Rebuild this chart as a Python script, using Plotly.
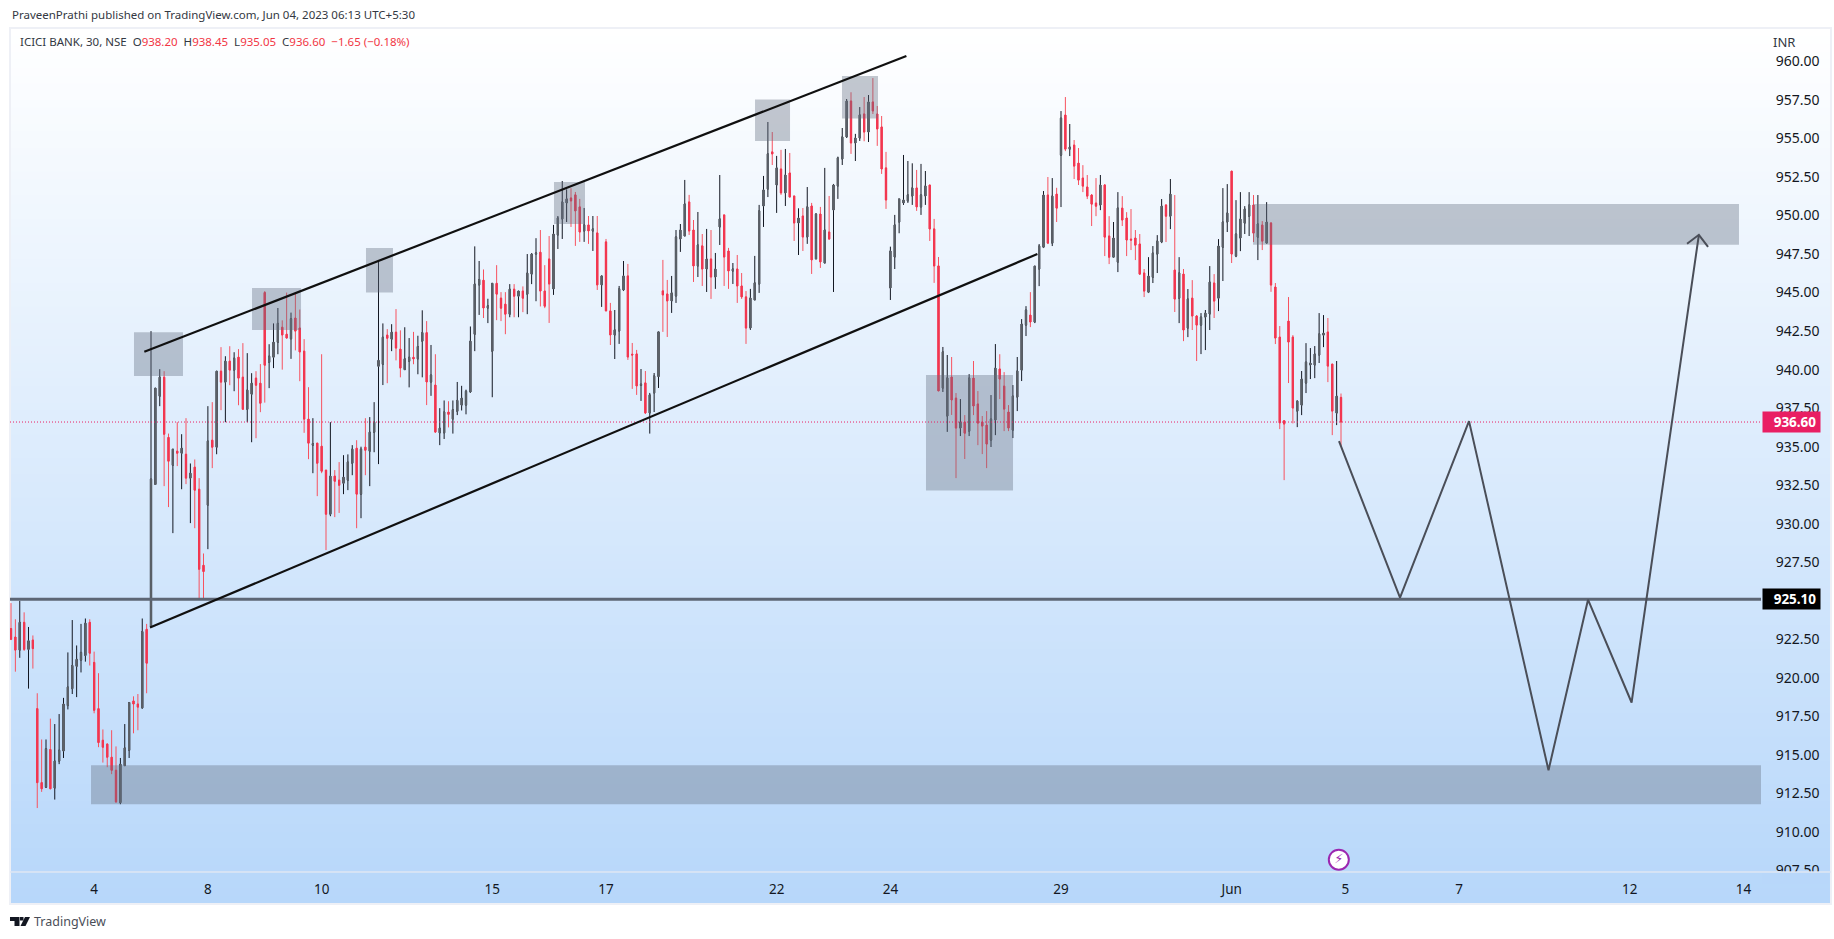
import plotly.graph_objects as go

# ---------- candle data (30 min bars, one per slot, left to right) ----------
open_prices = [
923.2,922.65,921.8,923.6,921.85,922.45,918,913.2,912.9,915.35,
912.85,914.6,915.25,918.2,919.3,920.75,921.15,921.45,923.6,921,
918,915.95,915.7,914.85,914,911.9,914.3,915.3,918.5,918.3,
918.05,923.15,923.35,932.55,938.28,939.51,935.6,933.8,934.71,934.58,
934.51,932.96,933.67,932.24,927.3,931.21,935.42,934.97,939.9,939.19,
940.55,939.97,940.81,939.51,937.43,938.41,939.45,939.12,945,940.48,
940.81,941.78,942.75,942.3,942,943.35,942.7,941.2,936.79,935.1,
935.23,935.03,933.48,930.62,933.09,932.83,932.63,932.83,933.93,934.9,
931.92,934.97,934.71,935.94,940.22,940.35,942.24,941.98,942.43,941.33,
940,940.55,940.8,940.7,941.85,942.4,939.2,939,935.9,935.9,
937.25,936.8,937.3,937.7,937.7,938.55,942.3,945.5,945.8,944,
941.2,945.6,944.64,944.25,943.6,945.22,944.77,945.1,944.9,946.2,
947.5,947.62,945.1,947.18,945.24,948.74,949.78,950.82,951.14,951.34,
950.56,949,949.39,949,948.87,945.5,948.29,943.81,942.25,942.51,
945.17,946.08,941,941.02,938.98,939.14,937.19,938.49,939.55,945.11,
944.91,944.46,944.78,948.48,948.67,950.88,949.06,946.73,948.03,946.53,
947.18,946.01,949.26,950.04,947.7,946.4,946.53,945.43,944.72,942.7,
944.52,945.56,950.62,951.72,954.13,951.98,953.02,951.47,952.76,951.27,
949.52,949.97,948.61,950.62,947.18,950.1,946.92,948.93,950.36,951.92,
953.67,955.1,957.43,954.71,955.03,956.59,955.42,957.37,956.59,955.75,
953.09,945.3,947.31,949.58,950.82,950.95,951.27,951.79,950.56,951.27,
951.98,949.13,946.73,938.81,936.99,939.52,938.15,936.21,936.6,936.01,
939.45,937.77,936.6,936.4,935.43,936.73,940.04,938.93,937.25,936.08,
938.22,939.97,942.89,943.54,943.09,946.53,947.95,951.33,948.21,951.39,
953.92,956.52,954.31,954.57,953.4,952.43,951.85,951.33,950.81,950.68,
951.98,948.67,947.3,946.98,950.48,949.84,948.47,948.54,948.15,946.27,
945.03,946,947.5,948.28,950.68,949.96,946.46,944.64,946.2,942.7,
944.64,943.48,942.89,943.41,943.61,945.62,944.64,947.95,949.58,952.88,
947.37,948.54,949.51,949.96,950.68,948.6,949.38,948.21,949.51,945.36,
942.11,936.68,943.15,942.11,937.31,937.7,939.13,940.3,940.3,940.95,
942.24,942.44,940.36,937.18,938.2]

high_prices = [
924.85,923.8,925,924.25,923.3,922.75,919,916,916,917.35,
917,917.65,918.7,921.65,923.75,922.1,923.5,923.85,923.8,921.7,
920.3,916.65,915.75,916.6,915.55,914.8,917,918.4,918.8,918.95,
923.85,923.5,942.5,938.8,940.03,939.9,935.85,934.84,936.59,935.81,
936.85,933.91,934.17,932.96,928.07,937.63,937.89,939.9,941.46,940.87,
941.52,941.13,941.33,941.72,941.07,939.77,939.9,940.36,945.1,941.65,
943,944,943.2,945,943.7,945,943.9,941.98,938.86,936.85,
935.23,941,933.48,936.59,933.48,934,934.45,934.5,935.1,935.42,
935,936.85,936.92,937.89,947.05,943,942.63,942.95,943.93,942.55,
942.75,942.05,942.45,942.2,943.85,943.15,941.6,941,937.5,938,
937.95,938,939.2,938.95,938.7,942.8,948,947.05,946.5,944.6,
945.6,946.78,945.03,945.03,945.55,945.55,945.1,945.4,947.5,947.56,
948.53,949.06,946.78,948.67,949.39,949.97,952.24,951.7,951.77,951.53,
951.08,950.49,949.97,949.97,949.97,946.1,948.48,944.33,943.87,945.43,
947.05,946.86,941.73,941.28,940.04,939.91,938.49,939.78,942.45,947.12,
945.82,946.08,949.06,949.45,952.31,951.34,949.71,950.23,948.8,949.13,
949.06,947.57,952.63,950.04,947.9,946.92,947.44,946.27,945.1,945.24,
947.38,950.69,952.57,956.07,955.42,953.87,954.26,954.32,954.06,951.27,
950.47,950.49,951.85,950.82,950.15,950.56,953.09,951.27,952.05,953.82,
955.68,957.56,958,955.3,957.04,957.69,957.82,958.92,957.11,956.46,
954.13,947.98,950.04,951.08,953.93,953.54,953.39,952.96,953.35,952.89,
951.98,949.78,947.31,941.47,940.95,940.82,938.48,938.09,937.05,939.71,
940.56,938.61,936.99,937.31,938.35,941.66,941,939.84,937.7,939,
940.82,943.28,944.12,945.03,946.72,948.15,951.59,952.5,952.43,951.8,
956.78,957.69,955.94,954.9,954.38,953.27,952.63,951.39,952.43,952.63,
952.04,949.96,949.58,951.52,951.26,950.22,950.42,949.06,948.8,946.53,
947.3,948.02,948.73,951.07,950.74,952.37,951.33,947.3,946.53,945.23,
945.81,943.54,943.67,943.87,946.72,946.2,948.47,951.78,952.04,952.88,
951,951.52,950.61,951.52,951.33,951.33,949.64,950.87,949.58,945.62,
942.83,936.73,944.71,942.24,938,939.91,941.72,941.4,941.53,943.67,
943.54,943.35,940.36,940.56,938.45]

low_prices = [
922.45,920.4,921.3,921.75,919.3,920.6,911.55,912.6,912.85,912.8,
912.1,914.4,914.8,917.95,918.95,918.75,920.35,921.05,920.8,917.7,
915.5,914.5,914.2,913.75,911.9,911.8,914.3,914.8,916.4,916.6,
918,919,923.35,932.55,937.63,932.44,931.08,929.39,933.74,932.24,
932.57,930.04,929.71,925.05,925.05,928.35,933.61,934.51,937.37,936.59,
938.99,938.6,937.69,937.43,936.59,935.29,935.55,937.24,937.86,938.8,
940.1,941,940,942.05,940.7,941.25,939.25,935.9,934.19,933.28,
931.79,933.28,928.29,930.49,930.43,930.7,931.92,932.18,933.15,929.71,
930.36,933.15,932.44,934.64,933.87,939,939.12,941.2,940.6,939.5,
940,938.85,940.35,939.7,939.5,937.7,938.3,935.9,935.1,935.5,
936.25,935.85,937.05,937.35,937.1,938.5,941.2,943.55,943.35,943.02,
938.21,943.21,943.15,942.3,943.4,943.4,943.4,943.73,943.6,945.55,
944.44,944.1,943.99,943.03,944.85,947.83,948.48,949.58,949.26,948.03,
948.29,948.29,948.16,947.7,945.17,944.07,943.81,941.6,940.69,941.67,
945.1,940.63,938.75,938.36,937.97,937.12,935.85,937.25,938.81,942.45,
942.12,943.68,944.33,947.64,948.67,948.74,945.69,946.01,945.43,945.04,
944.59,945.24,948.09,945.43,945.24,945.56,944.33,944.59,941.67,942.58,
944.52,944.98,949.26,951.2,953.28,950.17,951.34,950.62,951.2,948.35,
947.44,947.7,948.16,946.21,947.18,946.6,946.9,948.42,945.04,951.08,
953.28,955.03,954,953.54,954.84,954.82,954.77,956.59,954.52,952.7,
950.43,944.52,946.53,948.85,950.69,950.82,950.69,950.3,950.04,950.69,
948.35,945.63,938.62,938.55,935.96,937.06,932.96,935.69,934.2,935.69,
937.05,935.1,934.52,933.61,934.98,935.75,938.09,936.01,936.01,935.56,
937.31,939.26,942.18,942.76,943.02,945.42,947.89,948.15,948.02,949.58,
950.55,954.18,953.86,952.37,951.98,951.52,951.07,949.32,949.96,950.35,
947.37,946.85,947.3,946.33,949.32,947.37,947.76,947.11,946.14,944.71,
944.97,945.62,946.27,948.21,948.28,949.12,943.74,943.02,941.85,942.11,
942.57,940.56,941.01,941.27,942.57,943.35,943.8,945.75,948.93,946.92,
947.3,947.69,948.8,948.67,948.28,947.11,947.76,948.21,945.05,941.66,
936.14,932.83,939.13,936.51,936.27,937.05,938.48,939.39,939.45,940.43,
941.46,939.19,935.75,936.4,935.05]

close_prices = [
922.5,921.8,923.6,921.85,922.4,921.9,913.2,912.8,915.4,912.8,
914.6,915.3,918.3,919.4,920.8,921.2,921.65,923.55,921.6,917.9,
915.8,915.5,914.85,914,911.95,914.4,915.45,918.4,918.3,918.1,
923,920.95,932.9,938.8,939.51,935.81,934.06,934.84,934.58,934.9,
932.96,933.28,932.18,927.05,926.9,935.36,934.97,939.9,939.19,940.55,
939.97,940.74,939.45,937.43,938.67,939.12,938.99,937.82,940.29,940.87,
941.78,943,942.25,942.05,943.3,942.5,941.15,936.79,935.23,935.2,
933.93,933.41,930.62,933.09,932.76,932.5,933.02,934,934.84,931.92,
934.84,934.77,935.94,936.59,940.6,942.1,942.04,942.43,941.4,940.1,
940.7,940.8,940.7,941.5,942.4,939.2,939.65,935.95,936.2,937.25,
937.1,937.4,938,938.15,938.6,941.85,945.55,945.85,944,944.14,
945.6,944.9,943.99,943.6,945.22,944.77,945.1,944.64,946.26,947.5,
947.56,945.1,944.12,945.56,948.8,949.84,950.88,951.08,950.95,950.3,
948.93,949.39,949,949.13,945.5,946.08,943.81,942.25,942.58,945.24,
946.08,940.82,940.95,938.94,939.05,937.19,938.36,939.59,942.45,944.85,
944.46,944.98,948.61,949.06,950.75,949,946.73,948.09,946.53,947.18,
946.01,946.53,949.78,947.31,946.4,946.53,945.43,944.72,942.7,944.65,
945.63,950.3,951.66,954,954,953.09,951.47,952.63,951.2,949.52,
949.84,948.61,950.56,947.12,950.1,946.99,949.06,948.48,951.98,953.74,
955.1,957.43,954.71,955.03,956.53,955.42,957.37,956.79,955.62,953.02,
951.01,947.7,949.39,951.08,951.01,951.34,951.79,950.56,951.34,951.92,
949.13,946.73,938.62,941.15,939.46,938.03,936.21,936.6,935.88,939.45,
937.64,936.53,936.34,935.17,936.79,940.1,939.39,937.44,936.21,938.28,
939.91,942.96,943.87,943.09,946.72,948.02,951.33,948.21,951.26,950.48,
956.32,954.31,954.44,953.21,952.3,951.91,951.26,950.74,950.61,951.98,
948.6,947.3,948.54,950.48,949.71,948.41,948.41,948.08,946.2,945.1,
946.07,947.56,948.34,950.61,949.96,951.39,944.58,946.27,942.57,944.58,
943.48,942.89,943.41,943.67,945.68,944.45,948.02,949.58,950.16,947.5,
948.8,949.77,950.42,950.68,948.86,949.45,948.34,949.58,945.49,942.05,
936.55,936.47,941.79,937.51,937.96,939.39,940.49,940.43,941.01,942.31,
942.37,940.23,937.31,938.28,936.6]

# ---------- axes ----------
x_tick_slots = [19, 45, 71, 110, 136, 175, 201, 240, 279, 305, 331, 370, 396]
x_tick_labels = ["4", "8", "10", "15", "17", "22", "24", "29", "Jun", "5", "7", "12", "14"]
# 925.00 is hidden behind the 925.10 level label in the reference
y_tick_values = [907.5, 910, 912.5, 915, 917.5, 920, 922.5, 927.5, 930, 932.5, 935, 937.5,
                 940, 942.5, 945, 947.5, 950, 952.5, 955, 957.5, 960]

# ---------- drawings on the chart: (slot, price) ----------
channel_top = ([30.47, 204.66], [941.16, 960.35])
channel_bottom = ([31.77, 234.6], [923.26, 947.5])
projection = ([303.54, 317.49, 333.26, 351.43, 360.46, 370.42, 385.8],
              [935.36, 925.2, 936.66, 914.0, 925.07, 918.4, 948.75])
arrow_head = ([383.1, 385.8, 387.9], [948.17, 948.75, 947.97])
support_price = 925.10
last_price = 936.60
# zones: slot_left, slot_right, price_low, price_high
zones_slot_left = [28.11, 55.09, 81.14, 124.11, 170.06, 189.94, 209.14, 283.89, 18.29]
zones_slot_right = [39.31, 66.29, 87.31, 131.2, 178.06, 198.17, 229.03, 394.97, 400]
zones_price_low = [939.58, 942.57, 945.0, 949.45, 954.83, 956.3, 932.15, 948.1, 911.8]
zones_price_high = [942.43, 945.3, 947.9, 952.17, 957.53, 959.05, 939.65, 950.75, 914.33]

FONT = "Noto Sans"
W, H = 1834, 939
fx = lambda p: p / W
fy = lambda p: 1 - p / H
UP_WICK, DOWN_WICK = "#131722", "#f7525f"
UP_BODY, DOWN_BODY = "#5d6269", "#f23650"
slots = list(range(len(open_prices)))
XR = [-0.23, 400]

fig = go.Figure()
# wicks
fig.add_trace(go.Candlestick(
    x=slots, open=open_prices, high=high_prices, low=low_prices, close=close_prices,
    increasing=dict(line=dict(color=UP_WICK, width=1), fillcolor=UP_WICK),
    decreasing=dict(line=dict(color=DOWN_WICK, width=1), fillcolor=DOWN_WICK),
    whiskerwidth=0, hoverinfo="skip", showlegend=False))
# bodies
fig.add_trace(go.Candlestick(
    x=slots, open=open_prices, close=close_prices,
    high=[max(o, c) for o, c in zip(open_prices, close_prices)],
    low=[min(o, c) for o, c in zip(open_prices, close_prices)],
    increasing=dict(line=dict(color=UP_BODY, width=1), fillcolor=UP_BODY),
    decreasing=dict(line=dict(color=DOWN_BODY, width=1), fillcolor=DOWN_BODY),
    whiskerwidth=0, hoverinfo="skip", showlegend=False))

# zones
for x0, x1, y0, y1 in zip(zones_slot_left, zones_slot_right, zones_price_low, zones_price_high):
    fig.add_trace(go.Scatter(x=[x0, x1, x1, x0, x0], y=[y0, y0, y1, y1, y0], mode="lines",
                             fill="toself", fillcolor="rgba(100,110,130,0.38)",
                             line=dict(width=0), hoverinfo="skip", showlegend=False))
# levels
fig.add_trace(go.Scatter(x=XR, y=[last_price, last_price], mode="lines",
                         line=dict(color="#e91e63", width=1, dash="1px,2px"),
                         hoverinfo="skip", showlegend=False))
fig.add_trace(go.Scatter(x=XR, y=[support_price, support_price], mode="lines",
                         line=dict(color="#5d6675", width=3),
                         hoverinfo="skip", showlegend=False))
# trend lines
for xs, ys in (channel_top, channel_bottom):
    fig.add_trace(go.Scatter(x=xs, y=ys, mode="lines", line=dict(color="#101010", width=2.2),
                             hoverinfo="skip", showlegend=False))
# projection with arrow head
for xs, ys in (projection, arrow_head):
    fig.add_trace(go.Scatter(x=xs, y=ys, mode="lines",
                             line=dict(color="#4a4e58", width=2, shape="linear"),
                             hoverinfo="skip", showlegend=False))
# event marker
fig.add_trace(go.Scatter(x=[303.5], y=[908.2], mode="markers+text", text=["⚡"],
                         textposition="middle center",
                         textfont=dict(family="DejaVu Sans", size=13, color="#9c27b0"),
                         marker=dict(size=20, color="white", line=dict(color="#9c27b0", width=2)),
                         hoverinfo="skip", showlegend=False))

# background gradient (panel)
TOP, BOT = 28, 904
C0, C1 = (255, 255, 255), (183, 215, 250)
shapes = []
N = 110
for i in range(N):
    t = i / (N - 1)
    col = "rgb(%d,%d,%d)" % tuple(round(a + (b - a) * t) for a, b in zip(C0, C1))
    shapes.append(dict(type="rect", xref="paper", yref="paper", layer="below",
                       x0=fx(10), x1=fx(1831), y0=fy(TOP + (BOT - TOP) * i / N), y1=fy(BOT),
                       fillcolor=col, line=dict(width=0)))
shapes.append(dict(type="rect", xref="paper", yref="paper", layer="below",
                   x0=fx(10), x1=fx(1831), y0=fy(TOP), y1=fy(BOT),
                   fillcolor="rgba(0,0,0,0)", line=dict(color="#eef0f6", width=2)))
# mask that clips the lowest price label at the pane edge
shapes.append(dict(type="rect", xref="paper", yref="paper", layer="above",
                   x0=fx(1762), x1=fx(1829), y0=fy(872), y1=fy(884),
                   fillcolor="rgb(184,215,250)", line=dict(width=0)))
shapes.append(dict(type="line", xref="paper", yref="paper", layer="above",
                   x0=fx(10), x1=fx(1831), y0=fy(872), y1=fy(872),
                   line=dict(color="#dfe7f3", width=1.5)))
# TradingView logo
def poly(points):
    return "M " + " L ".join("%.5f,%.5f" % (fx(a), fy(b)) for a, b in points) + " Z"
for pts in ([(10, 917), (19.5, 917), (19.5, 926), (14.5, 926), (14.5, 921), (10, 921)],
            [(25, 917), (30, 917), (25.5, 926), (20.5, 926)],
            [(20, 917), (23.5, 917), (23.5, 920.5), (20, 920.5)]):
    shapes.append(dict(type="path", xref="paper", yref="paper", path=poly(pts),
                       fillcolor="#131722", line=dict(width=0)))

RED = "#f23645"
NB = "\u00a0\u00a0"
def r(s):
    return '<span style="color:%s">%s</span>' % (RED, s)
legend_text = ("ICICI BANK, 30, NSE" + NB + "O" + r("938.20") + NB + "H" + r("938.45") + NB + "L" + r("935.05")
               + NB + "C" + r("936.60") + NB + r("−1.65 (−0.18%)"))
annotations = [
    dict(text="PraveenPrathi published on TradingView.com, Jun 04, 2023 06:13 UTC+5:30",
         xref="paper", yref="paper", x=fx(10), y=fy(14.7), xanchor="left", yanchor="middle",
         showarrow=False, font=dict(family=FONT, size=11.5, color="#333842")),
    dict(text=legend_text, xref="paper", yref="paper", x=fx(18), y=fy(41.7), xanchor="left",
         yanchor="middle", showarrow=False, font=dict(family=FONT, size=11.5, color="#333842")),
    dict(text="INR", xref="paper", yref="paper", x=fx(1771), y=fy(42), xanchor="left",
         yanchor="middle", showarrow=False, font=dict(family=FONT, size=13, color="#333842")),
    dict(text="TradingView", xref="paper", yref="paper", x=fx(32), y=fy(921.5), xanchor="left",
         yanchor="middle", showarrow=False, font=dict(family=FONT, size=12.5, color="#4a4e58")),
    dict(text="<b>\u00a0\u00a0%.2f</b>" % last_price, xref="paper", yref="y", x=fx(1762), y=last_price,
         xanchor="left", yanchor="middle", showarrow=False, width=57, height=20, align="center",
         bgcolor="#e91e63", borderpad=0, font=dict(family=FONT, size=13.5, color="white")),
    dict(text="<b>\u00a0\u00a0%.2f</b>" % support_price, xref="paper", yref="y", x=fx(1762), y=support_price,
         xanchor="left", yanchor="middle", showarrow=False, width=57, height=20, align="center",
         bgcolor="#000000", borderpad=0, font=dict(family=FONT, size=13.5, color="white")),
]

fig.update_layout(
    width=W, height=H, margin=dict(l=0, r=0, t=0, b=0, autoexpand=False),
    paper_bgcolor="white", plot_bgcolor="rgba(0,0,0,0)", showlegend=False, hovermode=False,
    boxgap=0.6, boxmode="overlay", shapes=shapes, annotations=annotations,
    xaxis=dict(domain=[fx(10), fx(1761)], range=XR, tickmode="array", tickvals=x_tick_slots,
               ticktext=x_tick_labels, showgrid=False, zeroline=False, showline=False,
               ticks="outside", ticklen=5, tickcolor="rgba(0,0,0,0)",
               rangeslider=dict(visible=False), anchor="y",
               tickfont=dict(family=FONT, size=13.5, color="#131722")),
    yaxis=dict(domain=[fy(872), fy(28)], range=[907.4, 962.17], side="right", anchor="x",
               tickmode="array", tickvals=y_tick_values,
               ticktext=["%.2f" % v for v in y_tick_values], showgrid=False, zeroline=False,
               showline=False, ticks="outside", ticklen=11, tickcolor="rgba(0,0,0,0)",
               tickfont=dict(family=FONT, size=14, color="#131722")),
)

fig.write_html("out.html", post_script="document.body.style.margin='0';",
               config={"displayModeBar": False})
